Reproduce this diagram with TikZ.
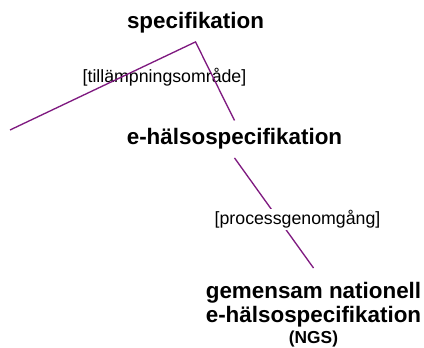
\documentclass[tikz,border=0pt]{standalone}
\usepackage{fontspec}
\setmainfont{Liberation Sans}
\usepackage{tikz}
\usetikzlibrary{positioning}
\definecolor{branchpurple}{HTML}{7F1A80}

\begin{document}
\begin{tikzpicture}[x=0.75pt,y=-0.75pt]

\tikzset{
termlabel/.style={
font=\bfseries\fontsize{16.8pt}{18pt}\selectfont,
inner xsep=0pt,
inner ysep=6pt
},
scopelabel/.style={
font=\fontsize{13.3pt}{15pt}\selectfont,
inner sep=1pt
},
branchline/.style={
draw=branchpurple,
line width=1pt
}
}

\useasboundingbox (0,0) rectangle (424,348);

%--------------------------------------------------
% TERMS
%--------------------------------------------------

\node[termlabel,anchor=base] (spec) at (195.5,29) {specifikation};
\node[termlabel,anchor=base] (ehs) at (234.5,145) {e-hälsospecifikation};
\node[termlabel,align=center,anchor=north,inner ysep=10.5pt] (ngs) at (313.5,268)
  {gemensam nationell\\e-hälsospecifikation\\[-2.25pt]{\fontsize{13pt}{15pt}\selectfont(NGS)}};

%--------------------------------------------------
% BRANCHES
%--------------------------------------------------

\node[scopelabel,anchor=base] (scope) at (164.5,83) {[tillämpningsområde]};

\coordinate (stub) at (10,130);
\draw[branchline] (stub) -- (spec.south) -- (ehs.north);
\draw[branchline] (ehs.south) -- (ngs.north);

\node[scopelabel,anchor=base,fill=white] (review) at (297.5,225) {[processgenomgång]};

\end{tikzpicture}
\end{document}
